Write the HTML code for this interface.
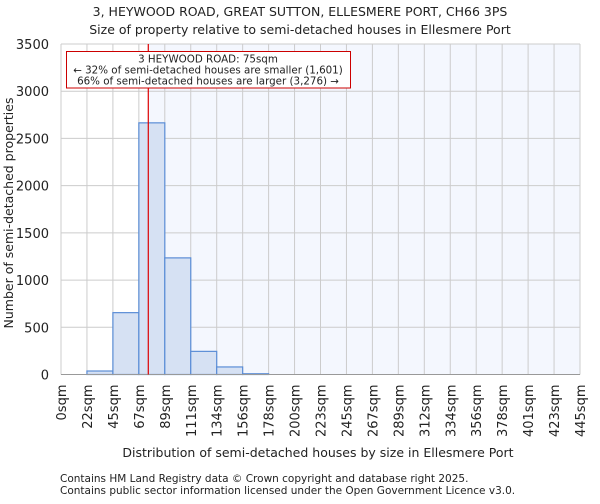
<!DOCTYPE html>
<html><head><meta charset="utf-8"><style>
body{margin:0;background:#fff;font-family:"DejaVu Sans","Liberation Sans",sans-serif;}
svg text{font-family:"DejaVu Sans","Liberation Sans",sans-serif;fill:#222;}
</style></head><body>
<svg id="c" width="600" height="500">
<text x="300" y="16" text-anchor="middle" font-size="12.5">3, HEYWOOD ROAD, GREAT SUTTON, ELLESMERE PORT, CH66 3PS</text>
<text x="300" y="34" text-anchor="middle" font-size="12.5">Size of property relative to semi-detached houses in Ellesmere Port</text>
<g id="plot"></g>
<text x="318" y="457" text-anchor="middle" font-size="12.5">Distribution of semi-detached houses by size in Ellesmere Port</text>
<text transform="translate(13,213) rotate(-90)" text-anchor="middle" font-size="12.5">Number of semi-detached properties</text>
<text x="60" y="482" font-size="10.5">Contains HM Land Registry data © Crown copyright and database right 2025.</text>
<text x="60" y="494" font-size="10.5">Contains public sector information licensed under the Open Government Licence v3.0.</text>
</svg>
<script>
const categories=["0sqm","22sqm","45sqm","67sqm","89sqm","111sqm","134sqm","156sqm","178sqm","200sqm","223sqm","245sqm","267sqm","289sqm","312sqm","334sqm","356sqm","378sqm","401sqm","423sqm","445sqm"];
const counts=[0,37,655,2665,1235,245,80,8,0,0,0,0,0,0,0,0,0,0,0,0];
const yTicks=[0,500,1000,1500,2000,2500,3000,3500];
const binEdges=[0,22,45,67,89,111,134,156,178,200,223,245,267,289,312,334,356,378,401,423,445];
const propertySize=75;
const L=61,R=580,T=44,B=374.5,yMax=3500;
const bw=(R-L)/counts.length;
const NS="http://www.w3.org/2000/svg";
const g=document.getElementById('plot');
function y(v){return B-(v/yMax)*(B-T);}
function xi(i){return L+i*bw;}
function xv(v){let i=0;while(i<binEdges.length-2&&v>binEdges[i+1])i++;return xi(i)+(v-binEdges[i])/(binEdges[i+1]-binEdges[i])*bw;}
function mk(t,a){const e=document.createElementNS(NS,t);for(const k in a)e.setAttribute(k,a[k]);g.appendChild(e);return e;}
const px=xv(propertySize);
let e=mk('rect',{x:px,y:T,width:R-px,height:B-T,fill:'#f4f7fe'});


yTicks.forEach(t=>{
 let l=mk('line',{x1:L,x2:R,y1:y(t),y2:y(t),stroke:'#ccc','stroke-width':1});
 
 
 let tx=mk('text',{x:L-12,y:y(t)+5,'text-anchor':'end','font-size':13});
 tx.textContent=t;
 
 
});
categories.forEach((c,i)=>{
 let l=mk('line',{x1:xi(i),x2:xi(i),y1:T,y2:B,stroke:'#ccc','stroke-width':1});
 
 
 let tx=mk('text',{transform:`translate(${xi(i)+5},${B+10}) rotate(-90)`,'text-anchor':'end','font-size':13});
 tx.textContent=c;
 
 
});
counts.forEach((v,i)=>{
 if(v<=0)return;
 let r=mk('rect',{x:xi(i),y:y(v),width:bw,height:B-y(v),fill:'#d6e1f3',stroke:'#5b8dd6','stroke-width':1.2});
 
 
});
e=mk('line',{x1:L,x2:R,y1:B,y2:B,stroke:'#999'});


e=mk('line',{x1:px,x2:px,y1:T,y2:B,stroke:'#d00','stroke-width':1.2});


e=mk('rect',{x:66.5,y:51.5,width:284,height:36.5,fill:'#fff',stroke:'#c00','stroke-width':1});


["3 HEYWOOD ROAD: 75sqm","← 32% of semi-detached houses are smaller (1,601)","66% of semi-detached houses are larger (3,276) →"].forEach((s,k)=>{
 let t=mk('text',{x:208,y:62.5+k*11,'text-anchor':'middle','font-size':10.3});
 t.textContent=s;
 
 
});
</script>
</body></html>
